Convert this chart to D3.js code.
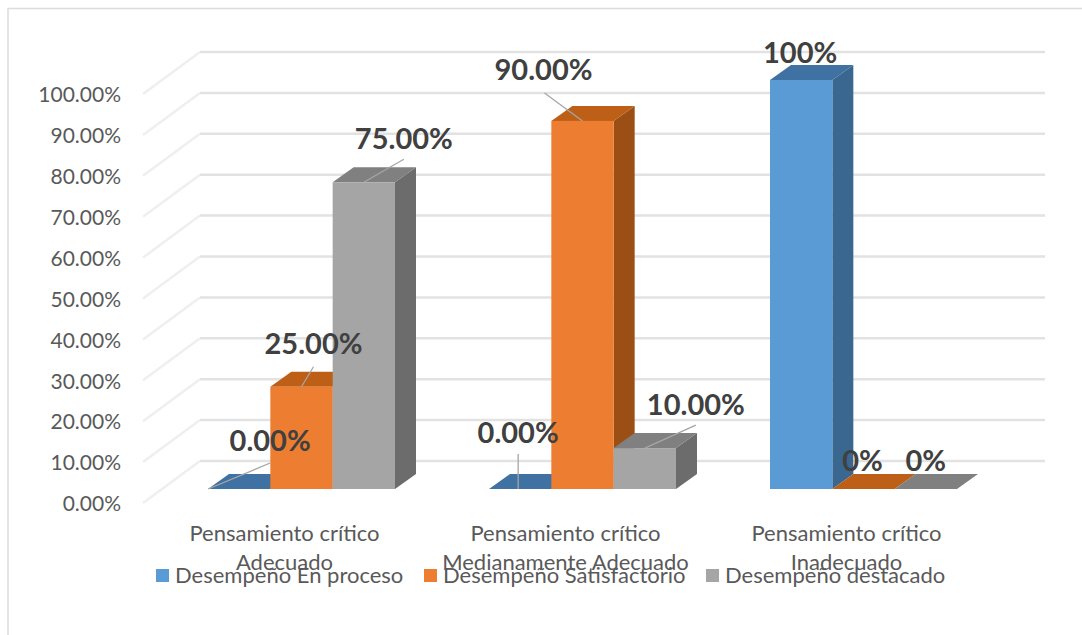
<!DOCTYPE html>
<html>
<head>
<meta charset="utf-8">
<script src="https://cdn.jsdelivr.net/npm/d3@7"></script>
<style>
  body { margin: 0; background: #fff; }
  text { font-family: Lato, "Open Sans", sans-serif; }
</style>
</head>
<body>
<div id="chart"></div>
<script>
// values, in percent
var categories = [
  ["Pensamiento crítico", "Adecuado"],
  ["Pensamiento crítico", "Medianamente Adecuado"],
  ["Pensamiento crítico", "Inadecuado"]
];
var seriesNames = ["Desempeño En proceso", "Desempeño Satisfactorio", "Desempeño destacado"];
var enProceso = [0, 0, 100];
var satisfactorio = [25, 90, 0];
var destacado = [75, 10, 0];
var labelsEnProceso = ["0.00%", "0.00%", "100%"];
var labelsSatisfactorio = ["25.00%", "90.00%", "0%"];
var labelsDestacado = ["75.00%", "10.00%", "0%"];
var ticks = [0, 10, 20, 30, 40, 50, 60, 70, 80, 90, 100];

var frontColors = ["#5b9bd5", "#ed7d31", "#a5a5a5"];
var topColors = ["#3f72a3", "#bd5f16", "#808080"];
var sideColors = ["#39678f", "#9c4f14", "#6c6c6c"];

var width = 1082, height = 635;
var depthX = 21, depthY = -15;  // bar depth
var wallX = 57, wallY = -42;    // floor depth, front edge to back wall

var svg = d3.select("#chart").append("svg")
    .attr("width", width)
    .attr("height", height)
    .style("display", "block");

// frame, only left and top show in the original
svg.append("path")
    .attr("d", "M8,635V8.5H1082")
    .attr("fill", "none")
    .attr("stroke", "#dcdcdc")
    .attr("stroke-width", 1.5);

var y = d3.scaleLinear().domain([0, 100]).range([489, 80]);
var x0 = d3.scaleBand().domain([0, 1, 2]).range([161, 1004])
    .paddingInner(0.3345).paddingOuter(0.16725);
var x1 = d3.scaleBand().domain([0, 1, 2]).range([0, x0.bandwidth()]);

// back wall gridlines and the floor diagonals
var backLeft = 143 + wallX;
var grid = svg.append("g");
ticks.forEach(function(t) {
  var gy = y(t) + 14;
  grid.append("line")
      .attr("x1", 143).attr("y1", gy)
      .attr("x2", backLeft).attr("y2", gy + wallY)
      .attr("stroke", "#efefef").attr("stroke-width", 2.5);
  grid.append("line")
      .attr("x1", backLeft).attr("y1", gy + wallY)
      .attr("x2", 1045).attr("y2", gy + wallY)
      .attr("stroke", "#e2e2e2").attr("stroke-width", 2.5);
});

// y axis labels sit on the front end of the diagonals
var axis = svg.append("g")
    .attr("transform", "translate(121,15)")
    .call(d3.axisLeft(y).tickValues(ticks).tickSize(0).tickPadding(0)
      .tickFormat(function(d) { return d3.format(".2f")(d) + "%"; }));
axis.select(".domain").remove();
axis.selectAll("text")
    .attr("fill", "#595959")
    .style("font-size", "21px")
    .style("font-family", "Lato, sans-serif");

// bars, drawn series by series so the sides get covered by the next one
var seriesValues = [enProceso, satisfactorio, destacado];
var seriesLabels = [labelsEnProceso, labelsSatisfactorio, labelsDestacado];
var bars = [];
seriesValues.forEach(function(vals, s) {
  vals.forEach(function(v, c) {
    bars.push({ s: s, c: c, v: v, left: x0(c) + x1(s), w: x1.bandwidth(), top: y(v), base: y(0) });
  });
});
bars.sort(function(a, b) { return a.c - b.c || a.s - b.s; });

var barG = svg.selectAll(".bar").data(bars).enter().append("g").attr("class", "bar");
barG.append("path")
    .attr("fill", function(d) { return sideColors[d.s]; })
    .attr("d", function(d) {
      var r = d.left + d.w;
      return "M" + r + "," + d.top + "l" + depthX + "," + depthY +
        "V" + (d.base + depthY) + "l" + (-depthX) + "," + (-depthY) + "Z";
    });
barG.append("path")
    .attr("fill", function(d) { return topColors[d.s]; })
    .attr("d", function(d) {
      return "M" + d.left + "," + d.top + "l" + depthX + "," + depthY +
        "h" + d.w + "l" + (-depthX) + "," + (-depthY) + "Z";
    });
barG.append("rect")
    .attr("fill", function(d) { return frontColors[d.s]; })
    .attr("x", function(d) { return d.left; })
    .attr("y", function(d) { return d.top; })
    .attr("width", function(d) { return d.w; })
    .attr("height", function(d) { return d.base - d.top; });

// data labels are dragged around in the original, so each has its own offset
// from the centre of the bar top: text dx, dy, leader end dx, dy, leader start dx
var labelNudge = {
  "0-0": [31, -48, 31, -26, -31],
  "1-0": [12, -43, 12, -20, 0],
  "2-0": [40, -43, 40, -23, 0],
  "0-1": [-2, -56, -2, -35, -2],
  "1-1": [-39, -51, -38, -28, 0],
  "2-1": [51, -43, 51, -23, 0],
  "0-2": [-1, -27, null],
  "1-2": [-1, -28, null],
  "2-2": [0, -28, null]
};

var lab = svg.append("g");
bars.forEach(function(d) {
  var n = labelNudge[d.s + "-" + d.c];
  var cx = d.left + d.w / 2;
  if (n[2] !== null) {
    lab.append("line")
        .attr("x1", cx + n[4]).attr("y1", d.top)
        .attr("x2", cx + n[2]).attr("y2", d.top + n[3])
        .attr("stroke", "#a6a6a6").attr("stroke-width", 1.3);
  }
});
bars.forEach(function(d) {
  var n = labelNudge[d.s + "-" + d.c];
  lab.append("text")
      .attr("x", d.left + d.w / 2 + n[0])
      .attr("y", d.top + n[1])
      .attr("dy", "0.35em")
      .attr("text-anchor", "middle")
      .attr("fill", "#404040")
      .style("font-size", "29px")
      .style("font-weight", "700")
      .text(seriesLabels[d.s][d.c]);
});

// category labels, shifted left of the bars as in the original
categories.forEach(function(lines, c) {
  var t = svg.append("text")
      .attr("text-anchor", "middle")
      .attr("fill", "#595959")
      .style("font-size", "22px");
  lines.forEach(function(line, i) {
    t.append("tspan")
        .attr("x", x0(c) + x0.bandwidth() / 2 - 17)
        .attr("y", 541 + i * 29)
        .text(line);
  });
});

// legend
var legendX = [156, 424, 706];
seriesNames.forEach(function(name, i) {
  svg.append("rect")
      .attr("x", legendX[i]).attr("y", 569)
      .attr("width", 13).attr("height", 13)
      .attr("fill", frontColors[i]);
  svg.append("text")
      .attr("x", legendX[i] + 19).attr("y", 583)
      .attr("fill", "#595959")
      .style("font-size", "22px")
      .text(name);
});
</script>
</body>
</html>
